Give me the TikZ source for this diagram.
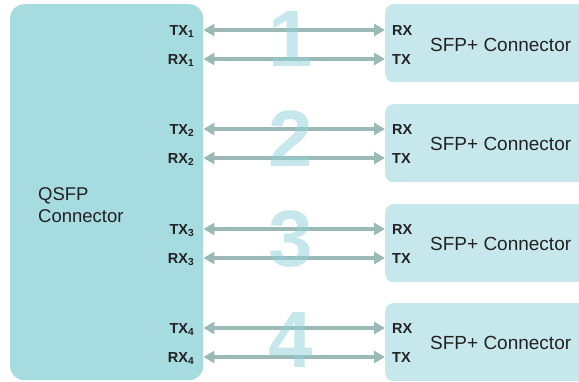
\documentclass[tikz,border=0pt]{standalone}
\usepackage{fontspec}
\setmainfont{Liberation Sans}
\usetikzlibrary{arrows.meta}
\definecolor{qsfpfill}{HTML}{A6DBDF}
\definecolor{sfpfill}{HTML}{C6E8EC}
\definecolor{linkgrey}{HTML}{9BBAB5}
\definecolor{numfill}{HTML}{8ED2DB}
\definecolor{txtgrey}{HTML}{222222}

\begin{document}
\begin{tikzpicture}[x=1pt, y=-1pt,
  qsfpbox/.style={fill=qsfpfill, rounded corners=14pt, inner sep=0pt, anchor=north west, minimum width=193pt, minimum height=376pt},
  sfpbox/.style={fill=sfpfill, rounded corners=8pt, inner sep=0pt, anchor=north west, minimum width=215pt, minimum height=78pt},
  boxtext/.style={text=txtgrey, inner sep=0pt, font=\fontsize{18.5}{22}\selectfont},
  sfptext/.style={boxtext, anchor=west, font=\fontsize{19}{22}\selectfont},
  pinl/.style={text=txtgrey, inner sep=0pt, anchor=base east, font=\fontsize{14.5}{16}\selectfont\bfseries},
  pinr/.style={text=txtgrey, inner sep=0pt, anchor=base west, font=\fontsize{14.5}{16}\selectfont\bfseries},
  link/.style={draw=linkgrey, line width=4pt, {Triangle[length=11pt,width=12pt]}-{Triangle[length=11pt,width=12pt]}},
  lanenum/.style={text=numfill, text opacity=0.5, inner sep=0pt, font=\fontsize{80}{80}\selectfont\bfseries}]
\useasboundingbox (0,0) rectangle (579,381);

% boxes
\node[qsfpbox] (qsfp) at (10,4) {};
\node[boxtext, anchor=west, align=left] (qsfptext) at (38,205.5) {QSFP\\Connector};
\node[sfpbox] (sfp1) at (385,4) {};
\node[sfpbox] (sfp2) at (385,104) {};
\node[sfpbox] (sfp3) at (385,204) {};
\node[sfpbox] (sfp4) at (385,303) {};
\node[sfptext] (sfptext1) at (430,44.5) {SFP+ Connector};
\node[sfptext] (sfptext2) at (430,143.5) {SFP+ Connector};
\node[sfptext] (sfptext3) at (430,243.5) {SFP+ Connector};
\node[sfptext] (sfptext4) at (430,342.5) {SFP+ Connector};

% link end points
\coordinate (q1t) at (qsfp.east |- 0,30);
\coordinate (q1r) at (qsfp.east |- 0,59);
\coordinate (q2t) at (qsfp.east |- 0,129);
\coordinate (q2r) at (qsfp.east |- 0,158);
\coordinate (q3t) at (qsfp.east |- 0,229);
\coordinate (q3r) at (qsfp.east |- 0,258);
\coordinate (q4t) at (qsfp.east |- 0,328);
\coordinate (q4r) at (qsfp.east |- 0,357);
\coordinate (s1r) at (sfp1.west |- q1t);
\coordinate (s1t) at (sfp1.west |- q1r);
\coordinate (s2r) at (sfp2.west |- q2t);
\coordinate (s2t) at (sfp2.west |- q2r);
\coordinate (s3r) at (sfp3.west |- q3t);
\coordinate (s3t) at (sfp3.west |- q3r);
\coordinate (s4r) at (sfp4.west |- q4t);
\coordinate (s4t) at (sfp4.west |- q4r);

\draw[link] (q1t) -- (s1r);
\draw[link] (q1r) -- (s1t);
\draw[link] (q2t) -- (s2r);
\draw[link] (q2r) -- (s2t);
\draw[link] (q3t) -- (s3r);
\draw[link] (q3r) -- (s3t);
\draw[link] (q4t) -- (s4r);
\draw[link] (q4r) -- (s4t);

% lane numbers
\node[lanenum] (num1) at (291,39) {1};
\node[lanenum] (num2) at (291,139) {2};
\node[lanenum] (num3) at (291,239) {3};
\node[lanenum] (num4) at (291,340) {4};

% pin labels
\node[pinl] (tx1) at ([shift={(-9,5.3)}]q1t) {TX\textsubscript{1}};
\node[pinl] (rx1) at ([shift={(-9,5.3)}]q1r) {RX\textsubscript{1}};
\node[pinl] (tx2) at ([shift={(-9,5.3)}]q2t) {TX\textsubscript{2}};
\node[pinl] (rx2) at ([shift={(-9,5.3)}]q2r) {RX\textsubscript{2}};
\node[pinl] (tx3) at ([shift={(-9,5.3)}]q3t) {TX\textsubscript{3}};
\node[pinl] (rx3) at ([shift={(-9,5.3)}]q3r) {RX\textsubscript{3}};
\node[pinl] (tx4) at ([shift={(-9,5.3)}]q4t) {TX\textsubscript{4}};
\node[pinl] (rx4) at ([shift={(-9,5.3)}]q4r) {RX\textsubscript{4}};
\node[pinr] (rxs1) at ([shift={(7,5.3)}]s1r) {RX};
\node[pinr] (txs1) at ([shift={(7,5.3)}]s1t) {TX};
\node[pinr] (rxs2) at ([shift={(7,5.3)}]s2r) {RX};
\node[pinr] (txs2) at ([shift={(7,5.3)}]s2t) {TX};
\node[pinr] (rxs3) at ([shift={(7,5.3)}]s3r) {RX};
\node[pinr] (txs3) at ([shift={(7,5.3)}]s3t) {TX};
\node[pinr] (rxs4) at ([shift={(7,5.3)}]s4r) {RX};
\node[pinr] (txs4) at ([shift={(7,5.3)}]s4t) {TX};

\end{tikzpicture}
\end{document}
